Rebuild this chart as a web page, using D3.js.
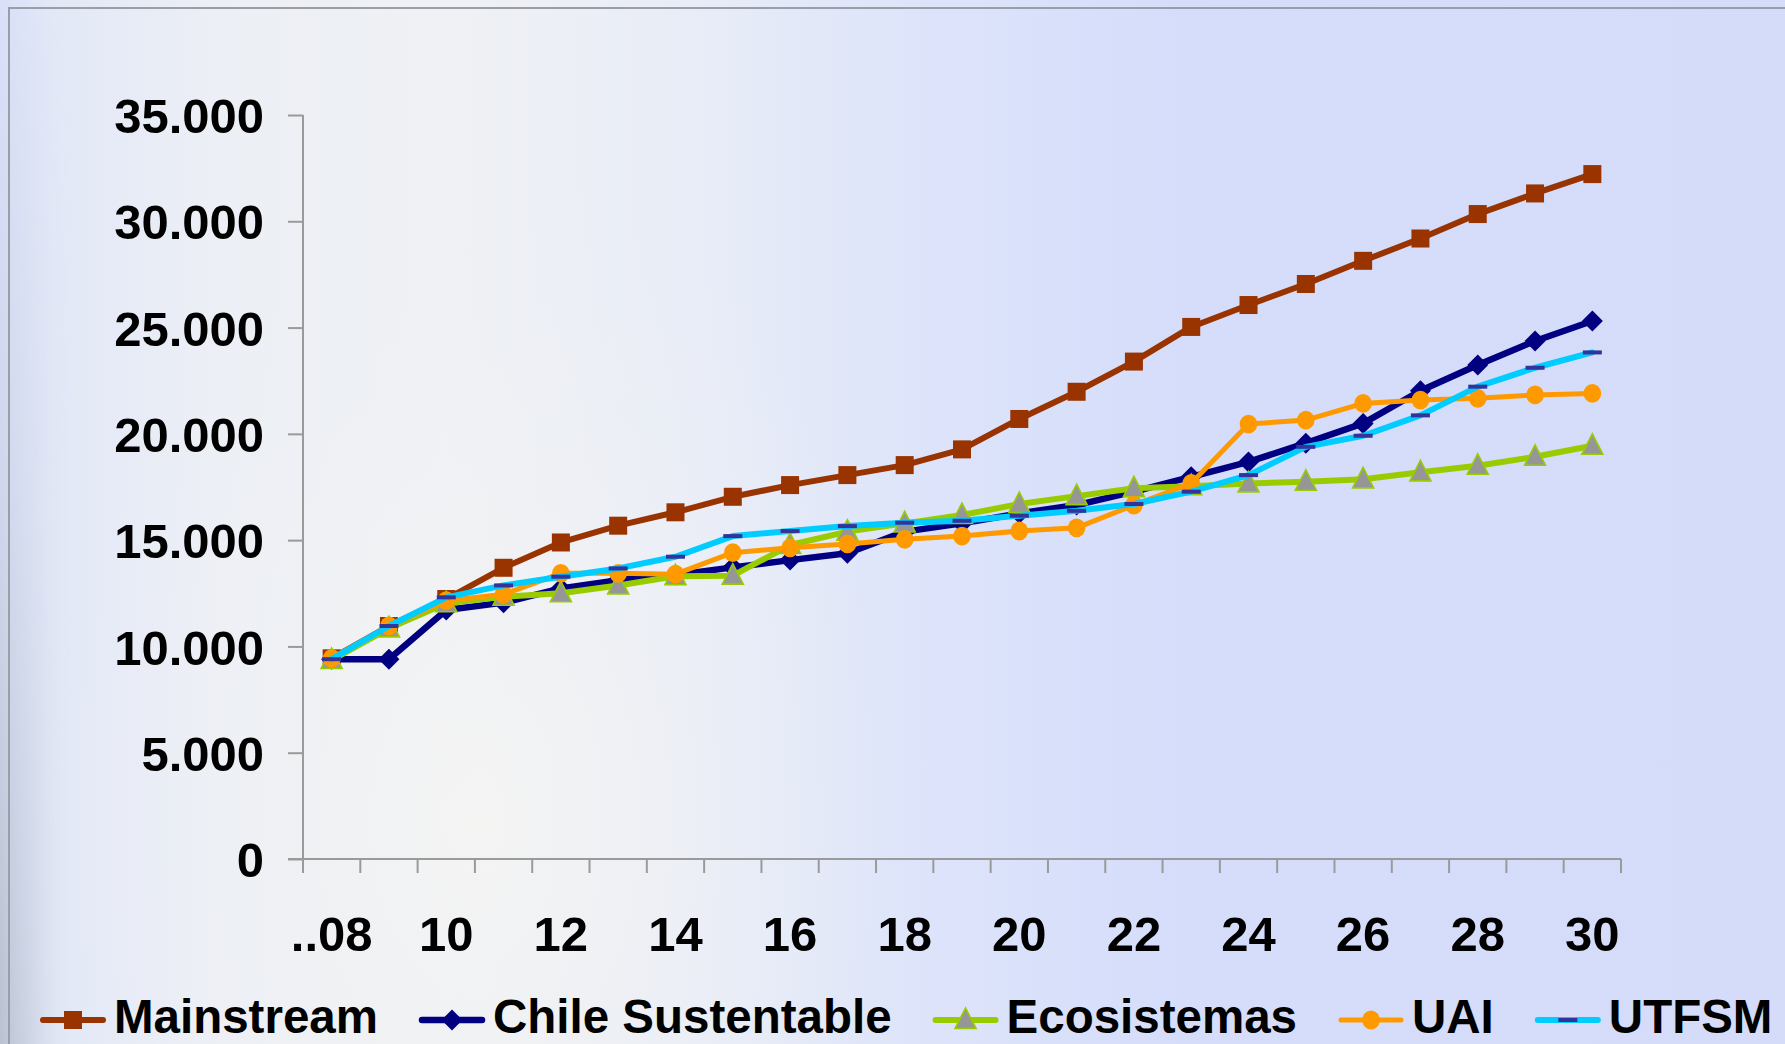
<!DOCTYPE html>
<html>
<head>
<meta charset="utf-8">
<script src="https://cdn.jsdelivr.net/npm/d3@7"></script>
<style>
  html, body { margin: 0; padding: 0; background: #d4dcfa; }
  svg { display: block; }
  text { font-family: "Liberation Sans", Arial, Helvetica, sans-serif; font-weight: bold; fill: #000; }
</style>
</head>
<body>
<svg id="chart" width="1785" height="1044"></svg>
<script>
// Years on the category axis (2008 .. 2030)
const years = ["2008","2009","2010","2011","2012","2013","2014","2015","2016","2017","2018","2019",
               "2020","2021","2022","2023","2024","2025","2026","2027","2028","2029","2030"];

// Tick labels shown under every second year
const xTickLabels = { "2008": "..08", "2010": "10", "2012": "12", "2014": "14", "2016": "16", "2018": "18",
                      "2020": "20", "2022": "22", "2024": "24", "2026": "26", "2028": "28", "2030": "30" };

const yTicks = [0, 5000, 10000, 15000, 20000, 25000, 30000, 35000];

// Scenario series
const mainstream = [9440, 10960, 12230, 13700, 14890, 15680, 16310, 17040, 17590, 18060, 18530, 19270,
                    20700, 21980, 23400, 25030, 26060, 27050, 28140, 29190, 30340, 31310, 32220];
const chileSustentable = [9400, 9400, 11710, 12060, 12730, 13120, 13360, 13720, 14060, 14380, 15400, 15790,
                          16260, 16650, 17280, 17980, 18680, 19560, 20490, 22030, 23240, 24370, 25310];
const ecosistemas = [9360, 10850, 12030, 12340, 12500, 12870, 13300, 13330, 14770, 15400, 15790, 16180,
                     16700, 17070, 17440, 17540, 17670, 17750, 17860, 18190, 18500, 18920, 19440];
const uai = [9440, 10960, 12150, 12450, 13440, 13440, 13400, 14410, 14640, 14820, 15040, 15190,
             15430, 15580, 16650, 17670, 20460, 20650, 21430, 21590, 21670, 21830, 21900];
const utfsm = [9400, 10960, 12310, 12870, 13280, 13670, 14220, 15190, 15430, 15660, 15820, 15910,
               16150, 16380, 16700, 17280, 18060, 19390, 19910, 20870, 22220, 23110, 23830];

const seriesNames = ["Mainstream", "Chile Sustentable", "Ecosistemas", "UAI", "UTFSM"];
const seriesValues = [mainstream, chileSustentable, ecosistemas, uai, utfsm];

// Visual style per series
const styles = {
  "Mainstream":        { line: "#993300", width: 6,   marker: "square" },
  "Chile Sustentable": { line: "#000080", width: 6.5, marker: "diamond" },
  "Ecosistemas":       { line: "#99cc00", width: 6,   marker: "triangle" },
  "UAI":               { line: "#ff9900", width: 5,   marker: "circle" },
  "UTFSM":             { line: "#00ccff", width: 6,   marker: "dash" }
};

const W = 1785, H = 1044;
const plot = { left: 303, right: 1621, top: 115, bottom: 859 };

const svg = d3.select("#chart");
const defs = svg.append("defs");

// ---- slide background ----
const bgLin = defs.append("linearGradient").attr("id", "bgLin").attr("x1", 0).attr("x2", 1).attr("y1", 0).attr("y2", 0);
[[0, "#d9e0f8"], [0.03, "#e3e8f7"], [0.12, "#eceff5"], [0.25, "#eff1f4"], [0.38, "#e9edf7"],
 [0.52, "#dde4fa"], [0.66, "#d5ddfa"], [1, "#d4dcfa"]]
  .forEach(([o, c]) => bgLin.append("stop").attr("offset", o).attr("stop-color", c));

const bgGlow = defs.append("radialGradient").attr("id", "bgGlow")
  .attr("gradientUnits", "userSpaceOnUse").attr("cx", 480).attr("cy", 820).attr("r", 520)
  .attr("gradientTransform", "translate(480,820) scale(0.8,1.3) translate(-480,-820)");
bgGlow.append("stop").attr("offset", 0).attr("stop-color", "#f4f4f2").attr("stop-opacity", 0.85);
bgGlow.append("stop").attr("offset", 0.55).attr("stop-color", "#f1f2f4").attr("stop-opacity", 0.4);
bgGlow.append("stop").attr("offset", 1).attr("stop-color", "#eef0f6").attr("stop-opacity", 0);

// greyish shading along the left edge, stronger towards the bottom
const edgeH = defs.append("linearGradient").attr("id", "edgeH").attr("x1", 0).attr("x2", 1).attr("y1", 0).attr("y2", 0);
edgeH.append("stop").attr("offset", 0).attr("stop-color", "#b9c2d1").attr("stop-opacity", 1);
edgeH.append("stop").attr("offset", 0.5).attr("stop-color", "#c8cfdd").attr("stop-opacity", 0.6);
edgeH.append("stop").attr("offset", 1).attr("stop-color", "#dde3f0").attr("stop-opacity", 0);
const edgeV = defs.append("linearGradient").attr("id", "edgeV").attr("x1", 0).attr("x2", 0).attr("y1", 0).attr("y2", 1);
edgeV.append("stop").attr("offset", 0).attr("stop-color", "#fff").attr("stop-opacity", 0);
edgeV.append("stop").attr("offset", 0.5).attr("stop-color", "#fff").attr("stop-opacity", 0.35);
edgeV.append("stop").attr("offset", 1).attr("stop-color", "#fff").attr("stop-opacity", 1);
defs.append("mask").attr("id", "edgeMask").append("rect")
  .attr("x", 0).attr("y", 0).attr("width", 70).attr("height", H).attr("fill", "url(#edgeV)");

svg.append("rect").attr("width", W).attr("height", H).attr("fill", "url(#bgLin)");
svg.append("rect").attr("width", W).attr("height", H).attr("fill", "url(#bgGlow)");
svg.append("rect").attr("x", 0).attr("y", 0).attr("width", 70).attr("height", H)
  .attr("fill", "url(#edgeH)").attr("mask", "url(#edgeMask)");

// slide frame
svg.append("path").attr("d", `M9,${H} V8 H${W}`).attr("fill", "none").attr("stroke", "#9a9ea8").attr("stroke-width", 2);

// ---- scales ----
const x = d3.scaleBand().domain(years).range([plot.left, plot.right]).padding(0);
const y = d3.scaleLinear().domain([0, 35000]).range([plot.bottom, plot.top]);
const cx = d => x(d) + x.bandwidth() / 2;

const fmt = v => d3.format(",")(v).replace(/,/g, ".");

// ---- axes ----
const axisColor = "#9a9a9a";
const yAxis = svg.append("g").attr("transform", `translate(${plot.left},0)`)
  .call(d3.axisLeft(y).tickValues(yTicks).tickSize(15).tickPadding(24).tickFormat(fmt));
yAxis.select(".domain").attr("stroke", axisColor).attr("stroke-width", 2).attr("d", `M0,${plot.top}V${plot.bottom}`);
yAxis.selectAll(".tick line").attr("stroke", axisColor).attr("stroke-width", 2);
yAxis.selectAll(".tick text").attr("font-size", 49).attr("dy", "0.36em")
  .style("font-family", '"Liberation Sans", Arial, sans-serif').style("font-weight", "bold");

// category boundaries as tick marks
const boundaries = years.map(d => x(d)).concat([plot.right]);
const xAxis = svg.append("g");
xAxis.append("line").attr("x1", plot.left - 15).attr("x2", plot.right).attr("y1", plot.bottom).attr("y2", plot.bottom)
  .attr("stroke", axisColor).attr("stroke-width", 2);
xAxis.selectAll("line.tk").data(boundaries).join("line").attr("class", "tk")
  .attr("x1", d => d).attr("x2", d => d).attr("y1", plot.bottom).attr("y2", plot.bottom + 14)
  .attr("stroke", axisColor).attr("stroke-width", 2);
xAxis.selectAll("text").data(years.filter(d => xTickLabels[d])).join("text")
  .attr("x", d => cx(d)).attr("y", 951).attr("text-anchor", "middle").attr("font-size", 49)
  .text(d => xTickLabels[d]);

// ---- markers ----
function drawMarker(g, kind, px, py) {
  if (kind === "square") {
    g.append("rect").attr("x", px - 9).attr("y", py - 9).attr("width", 18).attr("height", 18).attr("fill", "#993300");
  } else if (kind === "diamond") {
    g.append("path").attr("d", `M${px},${py - 10.5}L${px + 10.5},${py}L${px},${py + 10.5}L${px - 10.5},${py}Z`).attr("fill", "#000080");
  } else if (kind === "triangle") {
    g.append("path").attr("d", `M${px},${py - 12}L${px + 10.5},${py + 8.5}L${px - 10.5},${py + 8.5}Z`)
      .attr("fill", "#969696").attr("stroke", "#99cc00").attr("stroke-width", 1.6);
  } else if (kind === "circle") {
    g.append("ellipse").attr("cx", px).attr("cy", py).attr("rx", 8.8).attr("ry", 9.4).attr("fill", "#ff9900");
  } else if (kind === "dash") {
    g.append("rect").attr("x", px - 9.5).attr("y", py - 2).attr("width", 19).attr("height", 4).attr("fill", "#333399");
  }
}

// ---- series ----
const line = d3.line().x((v, i) => cx(years[i])).y(v => y(v));
seriesNames.forEach((name, si) => {
  const vals = seriesValues[si];
  const st = styles[name];
  const g = svg.append("g").attr("class", "series");
  g.append("path").attr("d", line(vals)).attr("fill", "none").attr("stroke", st.line)
    .attr("stroke-width", st.width).attr("stroke-linejoin", "round").attr("stroke-linecap", "round");
  vals.forEach((v, i) => drawMarker(g, st.marker, cx(years[i]), y(v)));
});

// ---- legend ----
const legend = svg.append("g");
let lx = 43;
const ly = 1020;
seriesNames.forEach(name => {
  const st = styles[name];
  const it = legend.append("g");
  it.append("line").attr("x1", lx).attr("x2", lx + 60).attr("y1", ly).attr("y2", ly)
    .attr("stroke", st.line).attr("stroke-width", st.width).attr("stroke-linecap", "round");
  drawMarker(it, st.marker, lx + 30, ly);
  const t = it.append("text").attr("x", lx + 71).attr("y", 1033).attr("font-size", 47.5).text(name);
  lx = lx + 71 + t.node().getComputedTextLength() + 44;
});
</script>
</body>
</html>
